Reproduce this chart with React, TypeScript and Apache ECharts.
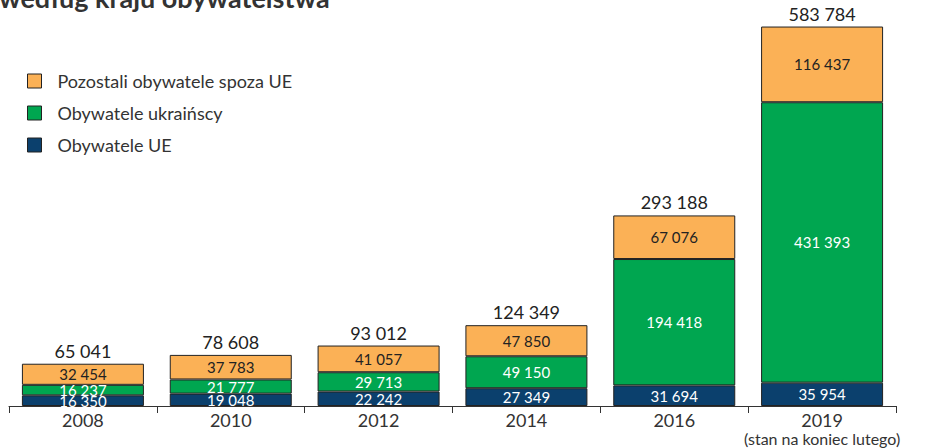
import React, { useEffect, useRef } from "react";
import * as echarts from "echarts";

const categories = ["2008", "2010", "2012", "2014", "2016", "2019"];
const obywateleUE = [16350, 19048, 22242, 27349, 31694, 35954];
const ukrainscy = [16237, 21777, 29713, 49150, 194418, 431393];
const pozostali = [32454, 37783, 41057, 47850, 67076, 116437];
const totals = [65041, 78608, 93012, 124349, 293188, 583784];

const fmt = (v: number) => String(v).replace(/\B(?=(\d{3})+(?!\d))/g, " ");

export default function App() {
  const ref = useRef<HTMLDivElement>(null);
  useEffect(() => {
    document.body.style.margin = "0";
    const chart = echarts.init(ref.current!, null, { renderer: "svg" });
    const font = "Lato";
    const segLabel = (color: string) => ({
      show: true,
      position: "inside" as const,
      color,
      fontSize: 15,
      fontFamily: font,
      formatter: (p: any) => fmt(p.value),
    });
    chart.setOption({
      animation: false,
      textStyle: { fontFamily: font },
      graphic: [
        {
          type: "text",
          left: -1,
          top: -16,
          style: {
            text: "według kraju obywatelstwa",
            font: "bold 27px Lato",
            fill: "#333333",
          },
        },
      ],
      legend: {
        orient: "vertical",
        left: 27,
        top: 72,
        padding: 0,
        icon: "rect",
        itemWidth: 14,
        itemHeight: 14,
        itemGap: 14,
        data: ["Pozostali obywatele spoza UE", "Obywatele ukraińscy", "Obywatele UE"],
        itemStyle: { borderColor: "#222", borderWidth: 1 },
        textStyle: { fontSize: 18, color: "#333", fontFamily: font, padding: [0, 0, 0, 11] },
      },
      grid: { left: 9, right: 32, top: 16, bottom: 42 },
      xAxis: {
        type: "category",
        data: categories,
        axisLine: { lineStyle: { color: "#333", width: 1 } },
        axisTick: { show: true, length: 7, lineStyle: { color: "#333" } },
        axisLabel: {
          interval: 0,
          color: "#333",
          fontFamily: font,
          margin: 5,
          formatter: (v: string) =>
            v === "2019" ? "{a|2019}\n{b|(stan na koniec lutego)}" : "{a|" + v + "}",
          rich: {
            a: { fontSize: 18, color: "#333", fontFamily: font, lineHeight: 18 },
            b: { fontSize: 16, color: "#333", fontFamily: font, lineHeight: 19 },
          },
        },
      },
      yAxis: { type: "value", min: 0, max: 600000, show: false, splitLine: { show: false } },
      series: [
        {
          name: "Obywatele UE",
          type: "bar",
          stack: "s",
          barWidth: 122,
          data: obywateleUE,
          itemStyle: { color: "#0B406D", borderColor: "#222", borderWidth: 1 },
          label: segLabel("#ffffff"),
        },
        {
          name: "Obywatele ukraińscy",
          type: "bar",
          stack: "s",
          data: ukrainscy,
          itemStyle: { color: "#00A650", borderColor: "#222", borderWidth: 1 },
          label: segLabel("#ffffff"),
        },
        {
          name: "Pozostali obywatele spoza UE",
          type: "bar",
          stack: "s",
          data: pozostali,
          itemStyle: { color: "#FBB156", borderColor: "#222", borderWidth: 1 },
          label: segLabel("#222222"),
        },
        {
          name: "total",
          type: "bar",
          stack: "s",
          data: totals.map(() => 0),
          itemStyle: { color: "transparent", borderWidth: 0 },
          label: {
            show: true,
            position: "top",
            distance: 4,
            fontSize: 18,
            color: "#222",
            fontFamily: font,
            formatter: (p: any) => fmt(totals[p.dataIndex]),
          },
        },
      ],
    });
    return () => chart.dispose();
  }, []);
  return (
    <div
      ref={ref}
      style={{ position: "absolute", left: 0, top: 0, width: 928, height: 448 }}
    />
  );
}
